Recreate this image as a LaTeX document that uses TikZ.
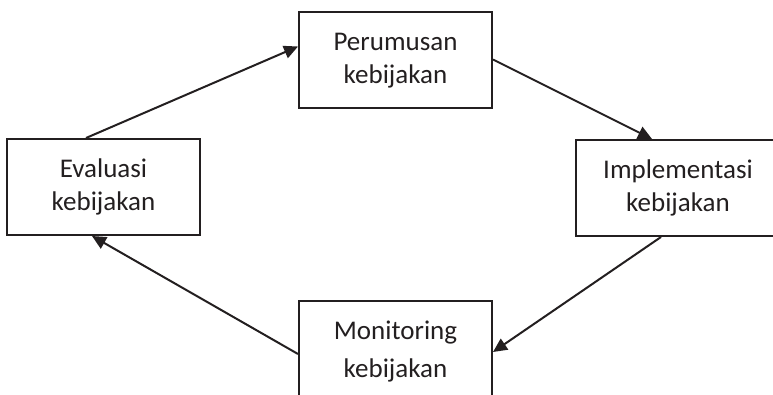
\documentclass[tikz,border=0pt]{standalone}
\usepackage{fontspec}
\setmainfont{Carlito}
\usepackage{tikz}
\usetikzlibrary{arrows.meta}
\definecolor{inkgray}{HTML}{231F20}

\begin{document}
\begin{tikzpicture}[
x = 1pt, y = -1pt,
every node/.style = {draw = inkgray, line width = 2pt, rectangle, align = center,
  text = inkgray, font = \fontsize{27}{33}\selectfont, inner sep = 0pt},
  stage/.style = {minimum width = 193pt, minimum height = 96pt},
  flow/.style = {draw = inkgray, line width = 2pt, -{Triangle[length = 14pt, width = 13pt]}}
]
\useasboundingbox (0,0) rectangle (773,395);
\node[stage] (perumusan) at (395.5, 60.5) {Perumusan\\kebijakan};
\node[stage, minimum width = 204pt] (implementasi) at (678, 188) {Implementasi\\kebijakan};
\node[stage, minimum height = 101pt, font = \fontsize{27}{38}\selectfont] (monitoring) at (395.5, 351.5) {Monitoring\\kebijakan};
\node[stage] (evaluasi) at (103.5, 187) {Evaluasi\\kebijakan};
% cycle
\draw[flow] ([xshift = 80pt]evaluasi.north west) -- ([yshift = -35pt]perumusan.north west);
\draw[flow] ([yshift = -48pt]perumusan.north east) -- ([xshift = 77pt]implementasi.north west);
\draw[flow] ([xshift = 86pt]implementasi.south west) -- ([yshift = -52pt]monitoring.north east);
\draw[flow] ([yshift = -54pt]monitoring.north west) -- ([xshift = 86pt]evaluasi.south west);
\end{tikzpicture}
\end{document}
